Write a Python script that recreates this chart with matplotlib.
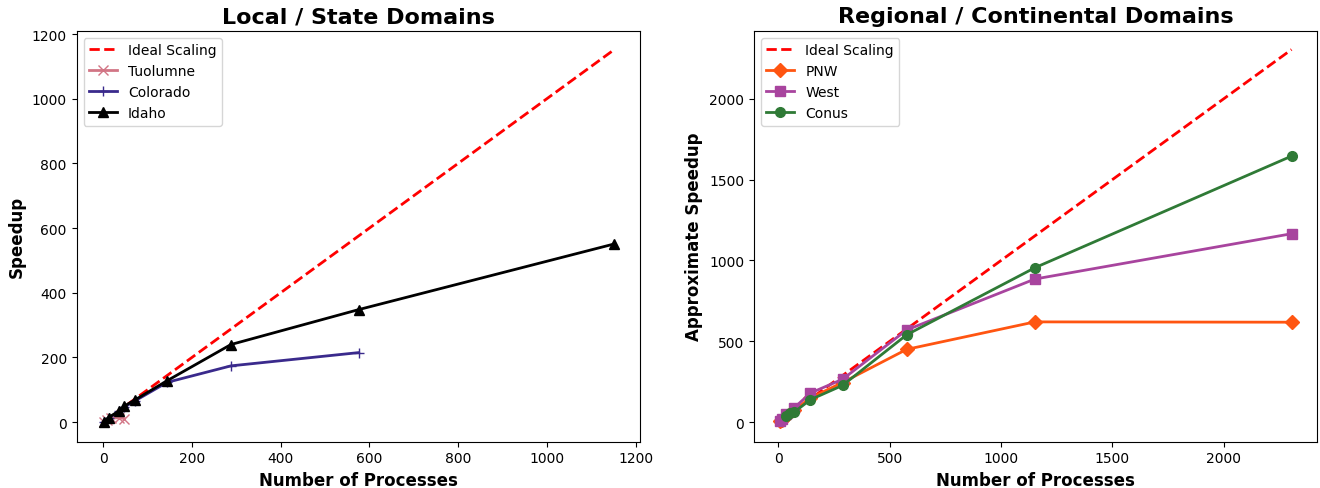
import matplotlib

matplotlib.use('Agg')
import matplotlib.pyplot as plt

# Local / State domains
ideal_local_x = [1, 1152]
tuolumne_x = [1, 9, 18, 36, 48]
tuolumne_y = [1, 8, 12, 14, 11]
colorado_x = [1, 12, 36, 48, 72, 144, 288, 576]
colorado_y = [1, 12, 34, 47, 66, 123, 174, 215]
idaho_x = [1, 12, 36, 48, 72, 144, 288, 576, 1152]
idaho_y = [1, 14, 35, 50, 69, 128, 240, 348, 551]

# Regional / Continental domains
ideal_reg_x = [1, 2304]
pnw_x = [9, 18, 36, 72, 144, 288, 576, 1152, 2304]
pnw_y = [5, 15, 40, 75, 150, 245, 450, 620, 618]
west_x = [9, 18, 36, 72, 144, 288, 576, 1152, 2304]
west_y = [10, 19, 50, 90, 180, 265, 570, 885, 1165]
conus_x = [36, 54, 72, 144, 288, 576, 1152, 2304]
conus_y = [40, 57, 63, 139, 227, 540, 955, 1645]

fig, (ax1, ax2) = plt.subplots(1, 2, figsize=(13.2, 4.89), dpi=100)
fig.subplots_adjust(left=0.058, right=0.998, top=0.935, bottom=0.095, wspace=0.202)

ax1.plot(ideal_local_x, ideal_local_x, 'r--', lw=2, label='Ideal Scaling')
ax1.plot(tuolumne_x, tuolumne_y, color='#d27585', marker='x', lw=2, ms=7, label='Tuolumne')
ax1.plot(colorado_x, colorado_y, color='#3a2a8c', marker='+', lw=2, ms=7, label='Colorado')
ax1.plot(idaho_x, idaho_y, color='black', marker='^', lw=2, ms=7, label='Idaho')
ax1.set_title('Local / State Domains', fontsize=16, fontweight='bold')
ax1.set_xlabel('Number of Processes', fontsize=12, fontweight='bold')
ax1.set_ylabel('Speedup', fontsize=12, fontweight='bold')
ax1.set_xlim(-60, 1210)
ax1.set_ylim(-60, 1210)
ax1.legend(loc='upper left', fontsize=10)

ax2.plot(ideal_reg_x, ideal_reg_x, 'r--', lw=2, label='Ideal Scaling')
ax2.plot(pnw_x, pnw_y, color='#ff5511', marker='D', lw=2, ms=7, label='PNW')
ax2.plot(west_x, west_y, color='#a8449e', marker='s', lw=2, ms=7, label='West')
ax2.plot(conus_x, conus_y, color='#2f7a36', marker='o', lw=2, ms=7, label='Conus')
ax2.set_title('Regional / Continental Domains', fontsize=16, fontweight='bold')
ax2.set_xlabel('Number of Processes', fontsize=12, fontweight='bold')
ax2.set_ylabel('Approximate Speedup', fontsize=12, fontweight='bold')
ax2.set_xlim(-110, 2420)
ax2.set_ylim(-120, 2420)
ax2.set_yticks([0, 500, 1000, 1500, 2000])
ax2.legend(loc='upper left', fontsize=10)

plt.savefig('out.png', dpi=100)
plt.close()
